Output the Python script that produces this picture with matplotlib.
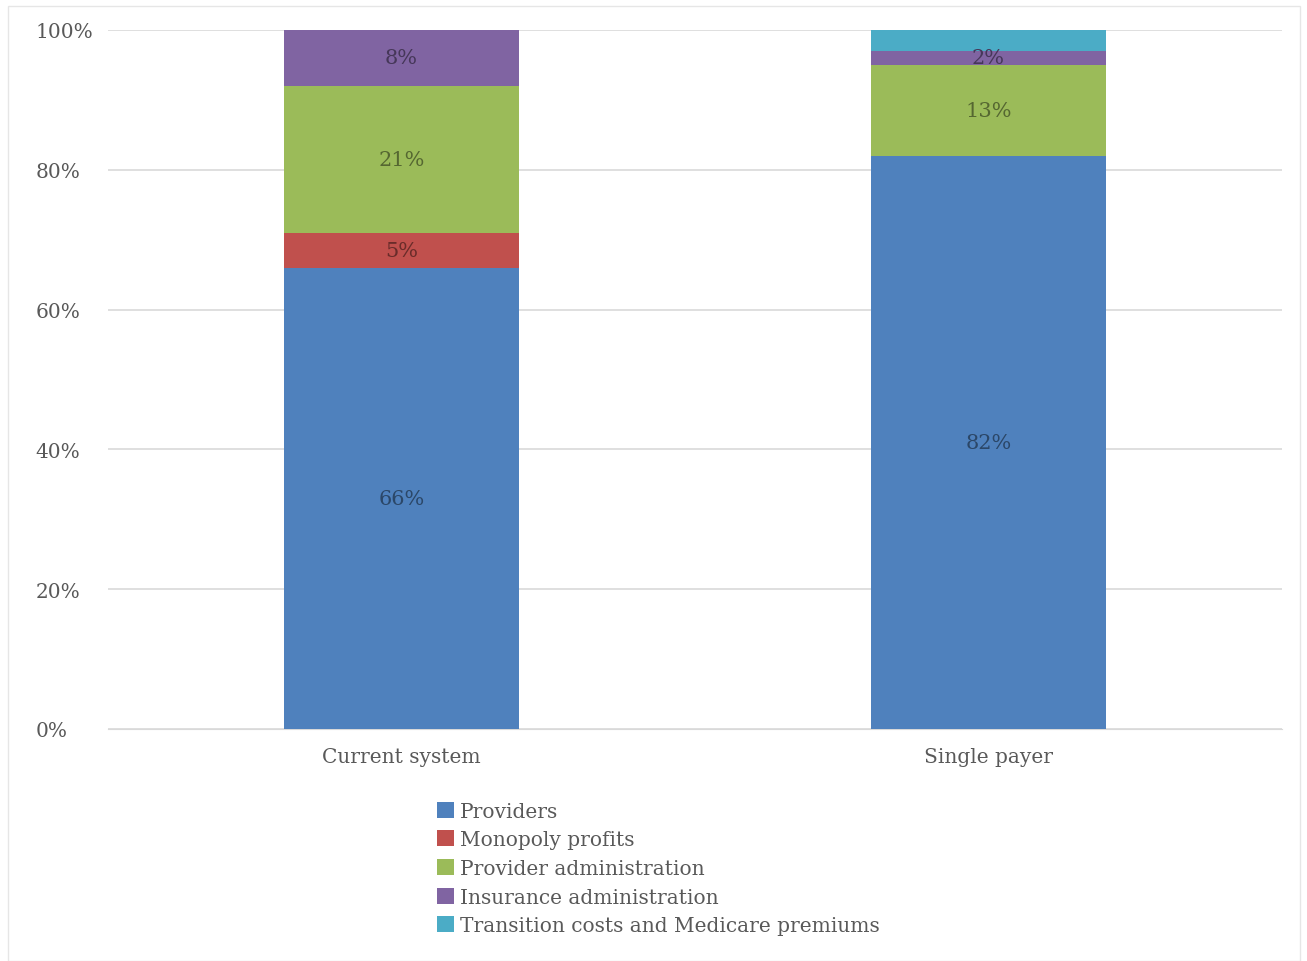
import numpy as np
import matplotlib
matplotlib.use("Agg")
import matplotlib.pyplot as plt
from matplotlib.colors import to_rgb
from matplotlib.patches import Rectangle

systems = ["Current system", "Single payer"]
components = ["Providers", "Monopoly profits", "Provider administration",
              "Insurance administration", "Transition costs and Medicare premiums"]
providers = [66, 82]
monopoly = [5, 0]
provider_admin = [21, 13]
insurance_admin = [8, 2]
transition = [0, 3]
# which segments carry a value label
labelled = [True, True, True, True, False]

COLORS = ["#4F81BD", "#C0504D", "#9BBB59", "#8064A2", "#4BACC6"]
TEXT = "#595959"
plt.rcParams["font.family"] = ["DejaVu Serif"]


def darker(c, f=0.55):
    r, g, b = to_rgb(c)
    return (r * f, g * f, b * f)


W, H = 1307, 962
fig = plt.figure(figsize=(W / 100, H / 100), dpi=100)
# faint chart-area frame
fig.patches.append(Rectangle((8 / W, 0.0), 1292 / W, 1 - 7 / H, transform=fig.transFigure,
                             fill=False, edgecolor="#e6e6e6", lw=1.0))
ax = fig.add_axes([108 / W, 1 - 730 / H, 1174 / W, 699 / H])

series = [providers, monopoly, provider_admin, insurance_admin, transition]
x = np.arange(len(systems))
bottom = np.zeros(len(systems))
for name, vals, col, lab in zip(components, series, COLORS, labelled):
    vals = np.array(vals, dtype=float)
    ax.bar(x, vals, bottom=bottom, width=0.4, color=col, label=name, zorder=3)
    if lab:
        for xi, b, v in zip(x, bottom, vals):
            if v > 0:
                ax.text(xi, b + v / 2, f"{v:.0f}%", ha="center", va="center",
                        fontsize=15, color=darker(col), zorder=4)
    bottom += vals

ax.set_xlim(-0.5, 1.5)
ax.set_ylim(0, 100)
ax.set_yticks(np.arange(0, 101, 20))
ax.set_yticklabels([f"{t}%" for t in range(0, 101, 20)], ha="left")
ax.set_xticks(x, systems)
ax.yaxis.grid(True, color="#d9d9d9", lw=1.2, zorder=0)
ax.tick_params(axis="both", length=0, labelsize=14.5, labelcolor=TEXT)
ax.tick_params(axis="y", pad=52)
ax.tick_params(axis="x", pad=13)
for s in ("top", "right", "left"):
    ax.spines[s].set_visible(False)
ax.spines["bottom"].set_color("#d9d9d9")

ax.legend(loc="upper left", bbox_to_anchor=(329 / 1174, -0.104), frameon=False,
          fontsize=14.5, labelcolor=TEXT, handlelength=0.85, handleheight=0.85,
          handletextpad=0.3, labelspacing=0.48, borderaxespad=0, borderpad=0)

fig.savefig("out.png", dpi=100, facecolor="white")
